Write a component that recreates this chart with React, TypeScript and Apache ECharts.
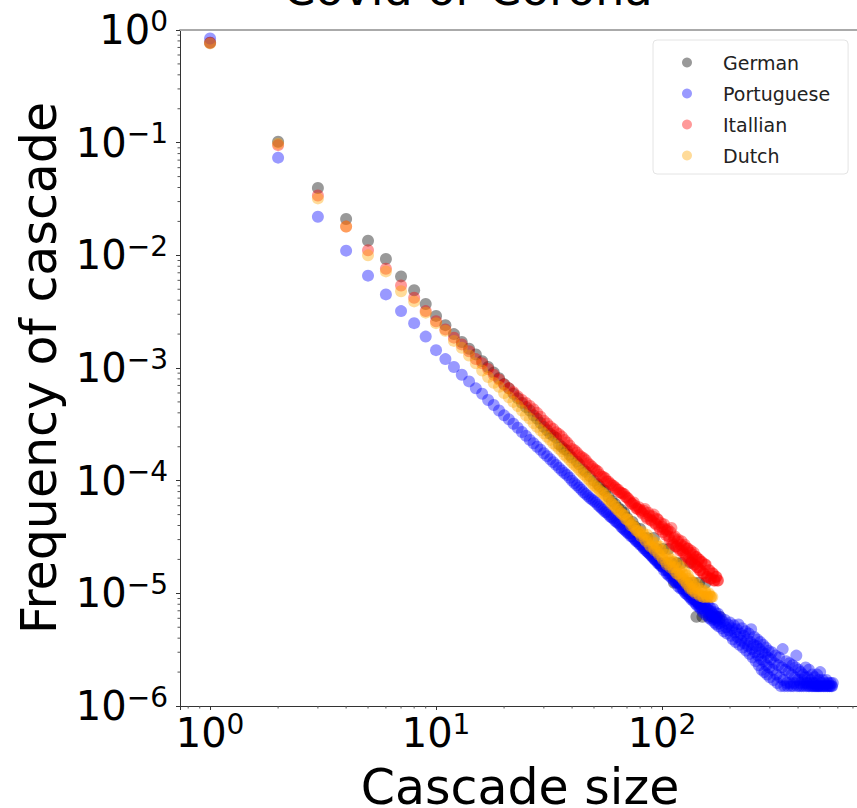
import React, { useEffect, useRef } from 'react';
import * as echarts from 'echarts';

const TITLE = 'Covid or Corona';
const X_NAME = 'Cascade size';
const Y_NAME = 'Frequency of cascade';
const SERIES_NAMES = ['German', 'Portuguese', 'Itallian', 'Dutch'];
const SERIES_COLORS = ['rgba(0,0,0,0.5)', 'rgba(0,0,255,0.5)', 'rgba(255,0,0,0.5)', 'rgba(255,165,0,0.5)'];

const X_MIN = 0.736;
const X_MAX = 752;
const Y_MIN = 1e-6;
const Y_MAX = 1;

// [cascade size, frequency]
const german: [number, number][] = [
  [1, 0.77], [2, 0.102], [3, 0.0396], [4, 0.021], [5, 0.0135], [6, 0.0093], [7, 0.0065], [8, 0.0049], [9, 0.0037], [10, 0.0029],
  [11, 0.0024], [12, 0.002], [13, 0.0017], [14, 0.00148], [15, 0.00132], [16, 0.00115], [17, 0.00102], [18, 0.00091], [19, 0.00081], [20, 0.00072],
  [21, 0.00066], [22, 0.00059], [23, 0.00054], [24, 0.00049], [25, 0.00045], [26, 0.00042], [27, 0.00038], [28, 0.000355], [29, 0.000325], [30, 0.0003],
  [31, 0.00028], [32, 0.00026], [33, 0.00025], [34, 0.00024], [35, 0.00021], [36, 0.0002], [37, 0.00019], [38, 0.000185], [39, 0.00017], [40, 0.00016],
  [42, 0.000148], [43, 0.00014], [45, 0.000125], [46, 0.00012], [48, 0.00011], [50, 0.0001], [52, 0.000093], [53, 0.000089], [55, 0.000083], [56, 0.000081],
  [58, 0.000072], [60, 0.000066], [62, 0.000062], [64, 0.0000575], [66, 0.000055], [68, 0.000052], [70, 0.000047], [72, 0.000042], [74, 0.000043], [76, 0.000039],
  [78, 0.000034], [80, 0.0000372], [83, 0.000031], [86, 0.000031], [89, 0.0000248], [92, 0.000031], [95, 0.0000248], [98, 0.0000186], [101, 0.0000248], [104, 0.0000186],
  [107, 0.0000248], [110, 0.0000186], [113, 0.0000124], [116, 0.0000186], [119, 0.0000124], [122, 0.0000186], [126, 0.0000124], [130, 0.0000124], [134, 0.0000186], [138, 0.0000124],
  [142, 0.0000062], [146, 0.0000124], [151, 0.0000062], [156, 0.0000124], [161, 0.0000062], [167, 0.0000062], [173, 0.0000062], [180, 0.0000062],
];

const portuguese: [number, number][] = [
  [1, 0.84], [2, 0.0736], [3, 0.022], [4, 0.011], [5, 0.0066], [6, 0.0045], [7, 0.0032], [8, 0.0025], [9, 0.0019], [10, 0.00144],
  [11, 0.0012], [12, 0.00102], [13, 0.00087], [14, 0.00076], [15, 0.00066], [16, 0.00059], [17, 0.00052], [18, 0.00047], [19, 0.00042], [20, 0.00038],
  [21, 0.00035], [22, 0.00032], [23, 0.000295], [24, 0.00027], [25, 0.00025], [26, 0.00023], [27, 0.000215], [28, 0.0002], [29, 0.000188], [30, 0.000175],
  [31, 0.000165], [32, 0.000155], [33, 0.000146], [34, 0.000138], [35, 0.00013], [36, 0.000123], [37, 0.000117], [38, 0.000112], [39, 0.000106], [40, 0.0001],
  [41, 0.000095], [42, 0.000091], [43, 0.000087], [44, 0.000083], [45, 0.000079], [46, 0.000076], [47, 0.000073], [48, 0.00007], [49, 0.000068], [50, 0.000066],
  [51, 0.000064], [52, 0.000061], [53, 0.000059], [54, 0.000057], [55, 0.000055], [56, 0.000053], [57, 0.000052], [58, 0.00005], [59, 0.000048], [60, 0.000047],
  [61, 0.000046], [62, 0.000044], [63, 0.000043], [64, 0.000042], [65, 0.000041], [66, 0.000039], [67, 0.000038], [68, 0.000037], [69, 0.000036], [70, 0.000035],
  [71, 0.000034], [72, 0.000034], [73, 0.000032], [74, 0.000032], [75, 0.000031], [76, 0.00003], [77, 0.000029], [78, 0.000029], [79, 0.000028], [80, 0.000027],
  [81, 0.000027], [82, 0.000026], [83, 0.000025], [84, 0.000025], [85, 0.000024], [86, 0.0000235], [87, 0.000023], [88, 0.0000225], [89, 0.000022], [90, 0.0000215],
  [91, 0.000021], [92, 0.0000205], [93, 0.00002], [94, 0.0000195], [95, 0.0000195], [96, 0.0000185], [97, 0.0000185], [98, 0.000018], [99, 0.0000175], [100, 0.0000175],
  [101, 0.000017], [102, 0.000016], [103, 0.0000175], [104, 0.000016], [105, 0.000015], [106, 0.000016], [107, 0.0000145], [108, 0.000015], [109, 0.000014], [110, 0.000015],
  [111, 0.0000135], [112, 0.000014], [113, 0.000013], [114, 0.000014], [115, 0.0000125], [116, 0.0000125], [117, 0.000013], [118, 0.0000115], [119, 0.0000125], [120, 0.000012],
  [121, 0.000011], [122, 0.000012], [123, 0.000011], [124, 0.000011], [125, 0.0000105], [126, 0.0000115], [127, 0.00001], [128, 0.0000105], [129, 0.0000098], [130, 0.0000105],
  [131, 0.0000095], [132, 0.00001], [133, 0.0000092], [134, 0.0000098], [135, 0.0000088], [136, 0.000009], [137, 0.0000095], [138, 0.0000085], [139, 0.0000088], [140, 0.0000088],
  [141, 0.0000081], [142, 0.0000086], [143, 0.0000078], [144, 0.0000083], [145, 0.0000081], [146, 0.0000076], [147, 0.000008], [148, 0.0000073], [149, 0.0000077], [150, 0.0000074],
  [151, 0.0000086], [152, 0.0000068], [153, 0.0000079], [154, 0.0000083], [155, 0.000007], [156, 0.0000076], [157, 0.0000064], [158, 0.0000072], [159, 0.000008], [160, 0.0000066],
  [161, 0.0000071], [162, 0.000006], [163, 0.0000075], [164, 0.0000063], [165, 0.0000069], [166, 0.0000058], [167, 0.0000066], [168, 0.0000073], [169, 0.0000059], [170, 0.0000064],
  [171, 0.0000055], [172, 0.0000068], [173, 0.000006], [174, 0.0000053], [175, 0.0000062], [176, 0.0000057], [177, 0.0000066], [178, 0.0000051], [179, 0.0000059], [180, 0.0000054],
  [182, 0.0000061], [184, 0.0000049], [186, 0.0000056], [188, 0.0000046], [190, 0.0000058], [192, 0.000005], [194, 0.0000044], [196, 0.0000053], [198, 0.0000047], [200, 0.0000055],
  [202, 0.0000042], [204, 0.0000049], [206, 0.0000039], [208, 0.0000052], [210, 0.0000045], [212, 0.0000037], [214, 0.0000048], [216, 0.0000041], [218, 0.0000053], [220, 0.0000035],
  [222, 0.0000044], [224, 0.0000038], [226, 0.0000049], [228, 0.0000033], [230, 0.0000042], [232, 0.0000036], [234, 0.0000046], [236, 0.0000031], [238, 0.0000039], [240, 0.0000034],
  [242, 0.0000044], [244, 0.0000029], [246, 0.0000037], [248, 0.0000048], [250, 0.0000032], [252, 0.0000027], [254, 0.0000035], [256, 0.0000041], [258, 0.000003], [260, 0.0000025],
  [262, 0.0000034], [264, 0.0000039], [266, 0.0000028], [268, 0.0000023], [270, 0.0000032], [272, 0.0000037], [274, 0.0000026], [276, 0.0000021], [278, 0.000003], [280, 0.0000035],
  [282, 0.0000025], [284, 0.000002], [286, 0.0000029], [288, 0.0000033], [290, 0.0000023], [292, 0.0000019], [294, 0.0000027], [296, 0.0000031], [298, 0.0000022], [300, 0.0000018],
  [303, 0.0000026], [306, 0.000003], [309, 0.0000021], [312, 0.0000017], [315, 0.0000024], [318, 0.0000028], [321, 0.0000019], [324, 0.0000016], [327, 0.0000023], [330, 0.0000027],
  [333, 0.0000018], [336, 0.0000015], [339, 0.0000022], [342, 0.0000032], [345, 0.0000017], [348, 0.0000015], [351, 0.0000021], [354, 0.0000025], [357, 0.0000016], [360, 0.0000015],
  [363, 0.000002], [366, 0.0000024], [369, 0.0000016], [372, 0.0000015], [375, 0.0000019], [378, 0.0000023], [381, 0.0000015], [384, 0.0000016], [387, 0.0000018], [390, 0.0000022],
  [393, 0.0000028], [396, 0.0000015], [399, 0.0000017], [402, 0.0000021], [405, 0.0000015], [408, 0.0000016], [411, 0.000002], [414, 0.0000015], [417, 0.0000017], [420, 0.0000019],
  [423, 0.0000015], [426, 0.0000016], [429, 0.0000018], [432, 0.0000022], [435, 0.0000015], [438, 0.0000016], [441, 0.0000018], [444, 0.0000015], [447, 0.0000021], [450, 0.0000015],
  [453, 0.0000016], [456, 0.0000017], [459, 0.0000015], [462, 0.0000019], [465, 0.0000015], [468, 0.0000016], [471, 0.0000015], [474, 0.0000018], [477, 0.0000015], [480, 0.0000016],
  [483, 0.0000015], [486, 0.0000019], [489, 0.0000015], [492, 0.0000015], [495, 0.0000017], [498, 0.0000015], [501, 0.000002], [504, 0.0000015], [507, 0.0000016], [510, 0.0000015],
  [514, 0.0000017], [518, 0.0000015], [522, 0.0000015], [526, 0.0000016], [530, 0.0000015], [534, 0.0000017], [538, 0.0000015], [542, 0.0000015], [546, 0.0000016], [550, 0.0000015],
  [554, 0.0000015], [558, 0.0000016], [562, 0.0000015], [566, 0.0000015], [570, 0.0000016],
];

const italian: [number, number][] = [
  [1, 0.77], [2, 0.095], [3, 0.034], [4, 0.018], [5, 0.0111], [6, 0.0076], [7, 0.0054], [8, 0.0042], [9, 0.0032], [10, 0.0026],
  [11, 0.0022], [12, 0.00186], [13, 0.00162], [14, 0.00141], [15, 0.0012], [16, 0.0011], [17, 0.00098], [18, 0.00087], [19, 0.00079], [20, 0.00071],
  [21, 0.00066], [22, 0.00061], [23, 0.00056], [24, 0.00052], [25, 0.00049], [26, 0.00046], [27, 0.00043], [28, 0.0004], [29, 0.00037], [30, 0.00034],
  [31, 0.000322], [32, 0.000302], [33, 0.000288], [34, 0.000269], [35, 0.000259], [36, 0.000246], [37, 0.00023], [38, 0.000218], [39, 0.000205], [40, 0.000191],
  [41, 0.000186], [42, 0.000178], [43, 0.000168], [44, 0.000162], [45, 0.000158], [46, 0.000152], [47, 0.000143], [48, 0.000138], [49, 0.000133], [50, 0.000127],
  [51, 0.000124], [52, 0.000121], [53, 0.000113], [54, 0.000109], [55, 0.000108], [56, 0.000105], [57, 0.000099], [58, 0.000098], [59, 0.000094], [60, 0.000091],
  [61, 0.00009], [62, 0.000087], [63, 0.000084], [64, 0.000083], [65, 0.000079], [66, 0.000078], [67, 0.000077], [68, 0.000076], [69, 0.000072], [70, 0.000071],
  [71, 0.000069], [72, 0.000066], [73, 0.000063], [74, 0.000062], [75, 0.000064], [76, 0.00006], [77, 0.000057], [78, 0.000056], [79, 0.000058], [80, 0.000055],
  [81, 0.000053], [82, 0.000051], [83, 0.000054], [84, 0.000056], [85, 0.000048], [86, 0.000046], [87, 0.000052], [88, 0.000049], [89, 0.000045], [90, 0.000044],
  [91, 0.000048], [92, 0.00005], [93, 0.000042], [94, 0.000041], [95, 0.000046], [96, 0.000045], [97, 0.000039], [98, 0.000037], [99, 0.000042], [100, 0.000039],
  [101, 0.000035], [102, 0.000041], [103, 0.000037], [104, 0.000033], [105, 0.000036], [106, 0.000037], [107, 0.000032], [108, 0.00003], [109, 0.000035], [110, 0.000038],
  [111, 0.000028], [112, 0.000027], [113, 0.000031], [114, 0.000032], [115, 0.000026], [116, 0.000026], [117, 0.000029], [118, 0.00003], [119, 0.000025], [120, 0.000024],
  [121, 0.000027], [122, 0.000029], [123, 0.000024], [124, 0.000023], [125, 0.000026], [126, 0.000027], [127, 0.000022], [128, 0.000021], [129, 0.000025], [130, 0.000025],
  [131, 0.00002], [132, 0.000019], [133, 0.000023], [134, 0.000024], [135, 0.000019], [136, 0.00002], [137, 0.000022], [138, 0.000023], [139, 0.000018], [140, 0.000018],
  [141, 0.000021], [142, 0.000021], [143, 0.000017], [144, 0.000017], [145, 0.00002], [146, 0.00002], [147, 0.000016], [148, 0.000016], [149, 0.000019], [150, 0.000019],
  [152, 0.000015], [153, 0.000015], [155, 0.000018], [156, 0.000018], [158, 0.000014], [159, 0.000014], [161, 0.000016], [162, 0.000016], [164, 0.0000135], [165, 0.0000135],
  [167, 0.000015], [168, 0.000015], [170, 0.000013], [171, 0.000013], [173, 0.000014], [174, 0.000014], [176, 0.000013], [177, 0.000013],
];

const dutch: [number, number][] = [
  [1, 0.76], [2, 0.098], [3, 0.032], [4, 0.018], [5, 0.01], [6, 0.0072], [7, 0.0048], [8, 0.0039], [9, 0.0031], [10, 0.0025],
  [11, 0.00214], [12, 0.00174], [13, 0.00151], [14, 0.00129], [15, 0.0011], [16, 0.00095], [17, 0.00083], [18, 0.00074], [19, 0.00068], [20, 0.0006],
  [21, 0.00055], [22, 0.0005], [23, 0.00046], [24, 0.00042], [25, 0.00038], [26, 0.000355], [27, 0.000325], [28, 0.0003], [29, 0.00028], [30, 0.000263],
  [31, 0.000245], [32, 0.00023], [33, 0.000215], [34, 0.000204], [35, 0.000192], [36, 0.000182], [37, 0.00017], [38, 0.000162], [39, 0.000153], [40, 0.000145],
  [41, 0.000138], [42, 0.000132], [43, 0.000125], [44, 0.00012], [45, 0.000114], [46, 0.00011], [47, 0.000104], [48, 0.0001], [49, 0.000095], [50, 0.000091],
  [51, 0.000088], [52, 0.000085], [53, 0.000081], [54, 0.000079], [55, 0.000077], [56, 0.000074], [57, 0.00007], [58, 0.000068], [59, 0.000065], [60, 0.000062],
  [61, 0.000061], [62, 0.000059], [63, 0.000056], [64, 0.000055], [65, 0.000053], [66, 0.000051], [67, 0.00005], [68, 0.000049], [69, 0.000046], [70, 0.000045],
  [71, 0.000045], [72, 0.000043], [73, 0.00004], [74, 0.000041], [75, 0.000039], [76, 0.000038], [77, 0.000036], [78, 0.000036], [79, 0.000035], [80, 0.000034],
  [81, 0.000032], [82, 0.000035], [83, 0.000033], [84, 0.00003], [85, 0.000029], [86, 0.000033], [87, 0.00003], [88, 0.000027], [89, 0.000026], [90, 0.00003],
  [91, 0.000028], [92, 0.000025], [93, 0.000024], [94, 0.000028], [95, 0.000026], [96, 0.000023], [97, 0.000022], [98, 0.000026], [99, 0.000024], [100, 0.000021],
  [101, 0.00002], [102, 0.000024], [103, 0.000022], [104, 0.000019], [105, 0.000018], [106, 0.000022], [107, 0.00002], [108, 0.000018], [109, 0.000017], [110, 0.00002],
  [111, 0.000019], [112, 0.000017], [113, 0.000016], [114, 0.000019], [115, 0.000017], [116, 0.000015], [117, 0.000015], [118, 0.000018], [119, 0.000016], [120, 0.0000145],
  [121, 0.000014], [122, 0.000017], [123, 0.000015], [124, 0.0000135], [125, 0.000013], [126, 0.0000155], [127, 0.0000145], [128, 0.0000125], [129, 0.000012], [130, 0.0000145],
  [131, 0.0000135], [132, 0.0000115], [133, 0.000011], [134, 0.000013], [135, 0.0000125], [136, 0.000011], [137, 0.0000105], [138, 0.0000125], [139, 0.0000115], [140, 0.0000105],
  [141, 0.00001], [143, 0.000012], [144, 0.000011], [146, 0.0000098], [147, 0.0000095], [149, 0.000011], [150, 0.0000105], [152, 0.0000093], [153, 0.0000093], [155, 0.0000105],
  [156, 0.00001], [158, 0.0000093], [159, 0.0000093], [161, 0.00001], [162, 0.0000096], [164, 0.0000093], [165, 0.0000093], [167, 0.0000093],
];

const SERIES_DATA = [german, portuguese, italian, dutch];

const FONT = 'DejaVu Sans, Verdana, sans-serif';

const minorTicksX: number[] = [];
for (const d of [0.1, 1, 10, 100]) {
  for (let k = 2; k <= 9; k++) {
    const v = k * d;
    if (v > X_MIN && v < X_MAX) minorTicksX.push(v);
  }
}
const minorTicksY: number[] = [];
for (const d of [1e-6, 1e-5, 1e-4, 1e-3, 1e-2, 1e-1]) {
  for (let k = 2; k <= 9; k++) minorTicksY.push(k * d);
}

const powLabel = (v: number) => {
  const e = Math.log10(v);
  const r = Math.round(e);
  if (Math.abs(e - r) > 1e-6) return '';
  const exp = r < 0 ? '\u2212' + String(-r) : String(r);
  return `{b|10}{s|${exp}}`;
};

const richLabel = {
  b: { fontSize: 40, lineHeight: 46, fontFamily: FONT, color: '#000' },
  s: { fontSize: 28, lineHeight: 24, verticalAlign: 'top', fontFamily: FONT, color: '#000' },
};

export default function App() {
  const ref = useRef<HTMLDivElement>(null);

  useEffect(() => {
    if (!ref.current) return;
    const chart = echarts.init(ref.current, undefined, { renderer: 'svg' });

    const scatterSeries = SERIES_NAMES.map((name, i) => ({
      name,
      type: 'scatter',
      data: SERIES_DATA[i],
      symbolSize: 12,
      itemStyle: { color: SERIES_COLORS[i], borderWidth: 0 },
      emphasis: { disabled: true },
      silent: true,
      z: 2,
    }));

    const option: any = {
      animation: false,
      backgroundColor: '#fff',
      graphic: [
        {
          type: 'text',
          x: 468,
          y: -11,
          style: {
            text: TITLE,
            font: `46px ${FONT}`,
            fill: '#000',
            align: 'center',
            verticalAlign: 'middle',
          },
        },
      ],
      legend: {
        data: SERIES_NAMES,
        orient: 'vertical',
        left: 653,
        top: 40,
        icon: 'circle',
        itemWidth: 62,
        itemHeight: 10,
        itemGap: 10,
        padding: [12, 18, 8, 29],
        borderColor: '#e4e4e4',
        borderWidth: 1,
        borderRadius: 4,
        backgroundColor: '#fff',
        selectedMode: false,
        textStyle: { fontSize: 19, lineHeight: 21, color: '#222', fontFamily: FONT },
      },
      grid: {
        left: 180,
        right: -3,
        top: 30,
        bottom: 102,
        containLabel: false,
        outerBoundsMode: 'none',
      },
      xAxis: [
        {
          type: 'log',
          logBase: 10,
          min: X_MIN,
          max: X_MAX,
          name: X_NAME,
          nameLocation: 'middle',
          nameGap: 57,
          nameTextStyle: { fontSize: 49, fontFamily: FONT, color: '#000' },
          axisLine: { show: true, lineStyle: { color: '#333', width: 1 } },
          axisTick: { show: true, length: 4, lineStyle: { color: '#333', width: 1 } },
          axisLabel: { margin: 4, formatter: powLabel, rich: richLabel },
          splitLine: { show: false },
          minorTick: { show: false },
        },
        {
          type: 'log',
          logBase: 10,
          min: X_MIN,
          max: X_MAX,
          position: 'top',
          axisLine: { show: true, lineStyle: { color: '#aaa', width: 2 } },
          axisTick: { show: false },
          axisLabel: { show: false },
          splitLine: { show: false },
        },
      ],
      yAxis: {
        type: 'log',
        logBase: 10,
        min: Y_MIN,
        max: Y_MAX,
        name: Y_NAME,
        nameLocation: 'middle',
        nameRotate: 90,
        nameGap: 116,
        nameTextStyle: { fontSize: 49, fontFamily: FONT, color: '#000' },
        axisLine: { show: true, lineStyle: { color: '#333', width: 1 } },
        axisTick: { show: true, length: 4, lineStyle: { color: '#333', width: 1 } },
        axisLabel: { margin: 12, formatter: powLabel, rich: richLabel },
        splitLine: { show: false },
        minorTick: { show: false },
      },
      series: [
        ...scatterSeries,
        {
          type: 'custom',
          coordinateSystem: 'cartesian2d',
          xAxisIndex: 0,
          yAxisIndex: 0,
          clip: false,
          silent: true,
          z: 5,
          data: minorTicksX.map((v) => [v, Y_MIN]),
          renderItem: (_p: any, api: any) => {
            const pt = api.coord([api.value(0), api.value(1)]);
            return {
              type: 'line',
              shape: { x1: pt[0], y1: pt[1], x2: pt[0], y2: pt[1] + 2.5 },
              style: { stroke: '#555', lineWidth: 1 },
            };
          },
        },
        {
          type: 'custom',
          coordinateSystem: 'cartesian2d',
          xAxisIndex: 0,
          yAxisIndex: 0,
          clip: false,
          silent: true,
          z: 5,
          data: minorTicksY.map((v) => [X_MIN, v]),
          renderItem: (_p: any, api: any) => {
            const pt = api.coord([api.value(0), api.value(1)]);
            return {
              type: 'line',
              shape: { x1: pt[0], y1: pt[1], x2: pt[0] - 2.5, y2: pt[1] },
              style: { stroke: '#555', lineWidth: 1 },
            };
          },
        },
      ],
    };

    chart.setOption(option);
    return () => chart.dispose();
  }, []);

  return (
    <div
      ref={ref}
      style={{ position: 'fixed', left: 0, top: 0, width: 857, height: 808, background: '#fff' }}
    />
  );
}
